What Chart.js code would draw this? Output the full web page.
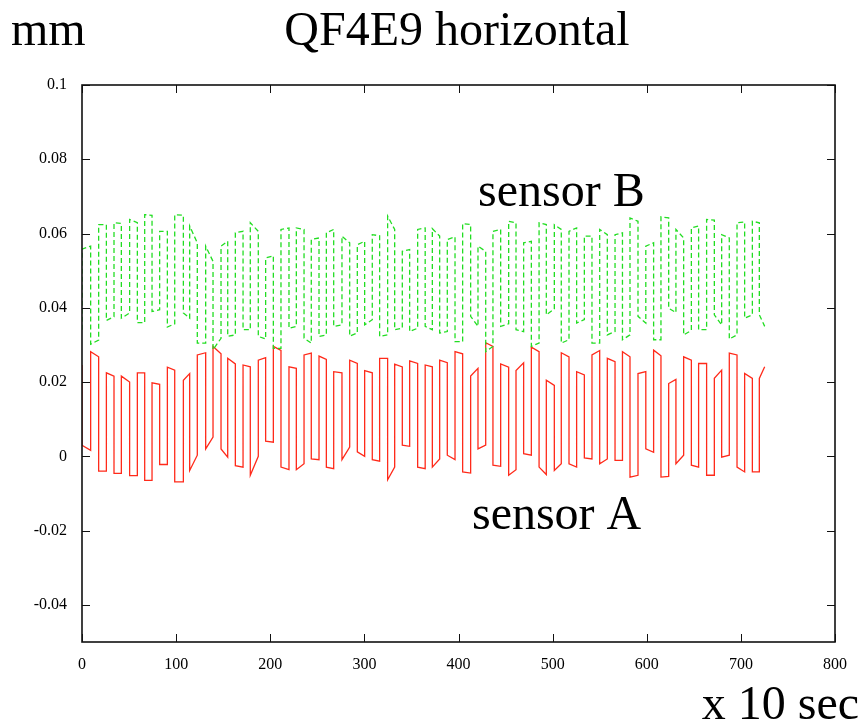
<!DOCTYPE html>
<html>
<head>
<meta charset="utf-8">
<title>QF4E9 horizontal</title>
<script src="https://cdn.jsdelivr.net/npm/chart.js@4/dist/chart.umd.min.js"></script>
<style>
  html, body { margin: 0; padding: 0; background: #fff; }
  #chart { display: block; }
</style>
</head>
<body>
<canvas id="chart" width="861" height="723"></canvas>
<script>
// time axis is in units of 10 s, displacement in mm
const xTicks = [0, 100, 200, 300, 400, 500, 600, 700, 800];
const xTickLabels = ["0", "100", "200", "300", "400", "500", "600", "700", "800"];
const yTicks = [-0.04, -0.02, 0, 0.02, 0.04, 0.06, 0.08, 0.1];
const yTickLabels = ["-0.04", "-0.02", "0", "0.02", "0.04", "0.06", "0.08", "0.1"];

// switching times: start of each plateau, last entry is the end of the record
const edges = [
  0, 9.2, 17.7, 25.9, 34.0, 41.8, 50.6, 58.8, 66.6, 74.4,
  82.5, 90.7, 98.5, 107.7, 114.4, 122.5, 131.4, 139.2, 147.7, 154.8,
  162.9, 171.1, 178.8, 187.3, 195.1, 203.3, 211.4, 219.9, 227.7, 235.9,
  243.6, 251.8, 259.6, 267.4, 276.2, 284.4, 292.5, 300.3, 308.4, 316.2,
  324.7, 332.2, 340.3, 348.1, 356.6, 364.6, 372.2, 380.0, 388.1, 396.3,
  404.4, 412.9, 420.7, 428.9, 436.6, 444.8, 453.3, 461.1, 469.2, 477.4,
  485.6, 493.3, 501.8, 509.2, 517.4, 525.5, 533.7, 541.8, 550.0, 558.1,
  566.3, 574.2, 582.2, 590.7, 599.0, 607.3, 615.1, 623.3, 631.0, 639.2,
  647.4, 655.1, 663.6, 671.8, 679.6, 687.7, 695.9, 704.0, 712.2, 719.6,
  725.3
];

// sensor A: value at the start and at the end of each plateau
const sensorAFirst = 0.0246;
const sensorAStart = [
  0.0030, 0.0282, -0.0040, 0.0225, -0.0046, 0.0216, -0.0052, 0.0225, -0.0065, 0.0198,
  -0.0022, 0.0240, -0.0069, 0.0205, -0.0038, 0.0273, 0.0020, 0.0296, 0.0020, 0.0264,
  -0.0025, 0.0246, -0.0051, 0.0259, 0.0041, 0.0296, -0.0029, 0.0241, -0.0036, 0.0273,
  -0.0007, 0.0270, -0.0029, 0.0228, -0.0009, 0.0259, 0.0012, 0.0231, -0.0009, 0.0264,
  -0.0063, 0.0248, 0.0030, 0.0257, -0.0029, 0.0246, -0.0029, 0.0259, 0.0003, 0.0282,
  -0.0042, 0.0216, 0.0020, 0.0306, -0.0024, 0.0249, -0.0051, 0.0231, 0.0007, 0.0294,
  -0.0029, 0.0205, -0.0038, 0.0279, -0.0020, 0.0228, -0.0004, 0.0273, -0.0020, 0.0264,
  -0.0011, 0.0282, -0.0056, 0.0223, 0.0020, 0.0286, -0.0056, 0.0196, -0.0020, 0.0268,
  -0.0024, 0.0250, -0.0051, 0.0210, -0.0002, 0.0278, -0.0029, 0.0223, -0.0042, 0.0210
];
const sensorAEnd = [
  0.0016, 0.0268, -0.0040, 0.0216, -0.0046, 0.0200, -0.0052, 0.0225, -0.0065, 0.0194,
  -0.0022, 0.0232, -0.0069, 0.0223, 0.0003, 0.0279, 0.0052, 0.0276, -0.0002, 0.0249,
  -0.0029, 0.0241, 0.0000, 0.0266, 0.0038, 0.0285, -0.0036, 0.0237, -0.0020, 0.0278,
  -0.0009, 0.0261, -0.0033, 0.0225, 0.0025, 0.0250, 0.0000, 0.0225, -0.0013, 0.0264,
  -0.0029, 0.0241, 0.0027, 0.0250, -0.0033, 0.0241, -0.0007, 0.0252, -0.0009, 0.0276,
  -0.0045, 0.0237, 0.0030, 0.0296, -0.0027, 0.0240, -0.0036, 0.0252, 0.0003, 0.0282,
  -0.0049, 0.0191, -0.0020, 0.0268, -0.0029, 0.0219, -0.0007, 0.0285, -0.0007, 0.0255,
  -0.0011, 0.0268, -0.0051, 0.0228, 0.0011, 0.0271, -0.0054, 0.0207, 0.0003, 0.0259,
  -0.0029, 0.0250, -0.0051, 0.0232, 0.0003, 0.0273, -0.0042, 0.0210, -0.0042, 0.0241
];

// sensor B, same plateaus (moves opposite to sensor A)
const sensorBFirst = 0.0341;
const sensorBStart = [
  0.0558, 0.0302, 0.0624, 0.0366, 0.0629, 0.0372, 0.0638, 0.0360, 0.0651, 0.0390,
  0.0606, 0.0348, 0.0651, 0.0386, 0.0620, 0.0305, 0.0566, 0.0287, 0.0566, 0.0323,
  0.0602, 0.0341, 0.0629, 0.0323, 0.0534, 0.0291, 0.0611, 0.0345, 0.0615, 0.0318,
  0.0584, 0.0323, 0.0602, 0.0350, 0.0593, 0.0324, 0.0570, 0.0354, 0.0597, 0.0323,
  0.0647, 0.0341, 0.0552, 0.0336, 0.0611, 0.0350, 0.0613, 0.0332, 0.0584, 0.0309,
  0.0627, 0.0377, 0.0566, 0.0282, 0.0606, 0.0350, 0.0633, 0.0341, 0.0575, 0.0296,
  0.0629, 0.0381, 0.0624, 0.0305, 0.0606, 0.0359, 0.0593, 0.0305, 0.0611, 0.0327,
  0.0597, 0.0314, 0.0642, 0.0377, 0.0566, 0.0314, 0.0645, 0.0399, 0.0611, 0.0327,
  0.0615, 0.0341, 0.0638, 0.0381, 0.0597, 0.0316, 0.0629, 0.0372, 0.0633, 0.0381
];
const sensorBEnd = [
  0.0566, 0.0313, 0.0624, 0.0376, 0.0627, 0.0386, 0.0629, 0.0360, 0.0649, 0.0395,
  0.0606, 0.0357, 0.0649, 0.0372, 0.0575, 0.0305, 0.0525, 0.0318, 0.0579, 0.0327,
  0.0606, 0.0341, 0.0606, 0.0316, 0.0540, 0.0291, 0.0615, 0.0350, 0.0611, 0.0305,
  0.0588, 0.0327, 0.0611, 0.0354, 0.0575, 0.0332, 0.0579, 0.0368, 0.0594, 0.0327,
  0.0611, 0.0345, 0.0557, 0.0345, 0.0615, 0.0341, 0.0593, 0.0336, 0.0591, 0.0309,
  0.0624, 0.0350, 0.0552, 0.0296, 0.0611, 0.0357, 0.0629, 0.0336, 0.0579, 0.0305,
  0.0624, 0.0397, 0.0611, 0.0314, 0.0615, 0.0368, 0.0593, 0.0305, 0.0597, 0.0336,
  0.0602, 0.0327, 0.0633, 0.0359, 0.0575, 0.0314, 0.0642, 0.0387, 0.0588, 0.0339,
  0.0620, 0.0341, 0.0636, 0.0354, 0.0588, 0.0327, 0.0631, 0.0381, 0.0629, 0.0350
];

// text placed inside the plot, in data coordinates
const traceNames = ["sensor B", "sensor A"];
const traceNameX = [420.7, 414.3];
const traceNameY = [0.0673, -0.0195];

const SERIF = '"Liberation Serif", "DejaVu Serif", "Times New Roman", serif';

// plateau list -> polyline; the jump between plateaus is a vertical step
function trace(first, starts, ends) {
  const pts = [{ x: edges[0], y: first }];
  for (let i = 0; i < starts.length; i++) {
    pts.push({ x: edges[i], y: starts[i] });
    pts.push({ x: edges[i + 1], y: ends[i] });
  }
  return pts;
}

// gnuplot-style frame: closed border with ticks pointing inward on all sides
const framePlugin = {
  id: "frame",
  afterDraw(chart) {
    const { ctx, chartArea: a, scales } = chart;
    const len = 8;
    ctx.save();
    ctx.strokeStyle = "#111";
    ctx.lineWidth = 1;
    ctx.beginPath();
    scales.x.ticks.forEach((t) => {
      const px = Math.round(scales.x.getPixelForValue(t.value)) + 0.5;
      ctx.moveTo(px, a.bottom); ctx.lineTo(px, a.bottom - len);
      ctx.moveTo(px, a.top); ctx.lineTo(px, a.top + len);
    });
    scales.y.ticks.forEach((t) => {
      const py = Math.round(scales.y.getPixelForValue(t.value)) + 0.5;
      ctx.moveTo(a.left, py); ctx.lineTo(a.left + len, py);
      ctx.moveTo(a.right, py); ctx.lineTo(a.right - len, py);
    });
    ctx.stroke();
    ctx.lineWidth = 1.6;
    ctx.strokeRect(a.left, a.top, a.right - a.left, a.bottom - a.top);

    ctx.fillStyle = "#000";
    ctx.font = "48px " + SERIF;
    ctx.textBaseline = "alphabetic";
    ctx.textAlign = "left";
    ctx.fillText("mm", 11, 45);
    ctx.textAlign = "center";
    ctx.fillText("QF4E9 horizontal", 457, 45);
    ctx.textAlign = "right";
    ctx.fillText("x 10 sec", 859, 719);
    ctx.textAlign = "left";
    traceNames.forEach((name, i) => {
      ctx.fillText(name,
        scales.x.getPixelForValue(traceNameX[i]),
        scales.y.getPixelForValue(traceNameY[i]));
    });
    ctx.restore();
  },
};

new Chart(document.getElementById("chart"), {
  type: "scatter",
  data: {
    datasets: [
      {
        label: "sensor B",
        data: trace(sensorBFirst, sensorBStart, sensorBEnd),
        showLine: true,
        borderColor: "#22dd22",
        borderWidth: 1.3,
        borderDash: [5, 3],
        pointRadius: 0,
        tension: 0,
      },
      {
        label: "sensor A",
        data: trace(sensorAFirst, sensorAStart, sensorAEnd),
        showLine: true,
        borderColor: "#ff2a1a",
        borderWidth: 1.3,
        pointRadius: 0,
        tension: 0,
      },
    ],
  },
  options: {
    responsive: false,
    animation: false,
    devicePixelRatio: 1,
    layout: { padding: { top: 85, right: 26, bottom: 0, left: 0 } },
    plugins: { legend: { display: false }, tooltip: { enabled: false } },
    scales: {
      x: {
        type: "linear",
        min: 0,
        max: 800,
        grid: { display: false, drawTicks: false },
        border: { display: false },
        afterBuildTicks: (s) => { s.ticks = xTicks.map((v) => ({ value: v })); },
        afterFit: (s) => { s.height = 81; },
        ticks: {
          padding: 13,
          color: "#000",
          maxRotation: 0,
          autoSkip: false,
          font: { family: SERIF, size: 16 },
          callback: (v, i) => xTickLabels[i],
        },
      },
      y: {
        type: "linear",
        min: -0.05,
        max: 0.1,
        grid: { display: false, drawTicks: false },
        border: { display: false },
        afterBuildTicks: (s) => { s.ticks = yTicks.map((v) => ({ value: v })); },
        afterFit: (s) => { s.width = 82; },
        ticks: {
          padding: 15,
          color: "#000",
          autoSkip: false,
          font: { family: SERIF, size: 16 },
          callback: (v, i) => yTickLabels[i],
        },
      },
    },
  },
  plugins: [framePlugin],
});
</script>
</body>
</html>
